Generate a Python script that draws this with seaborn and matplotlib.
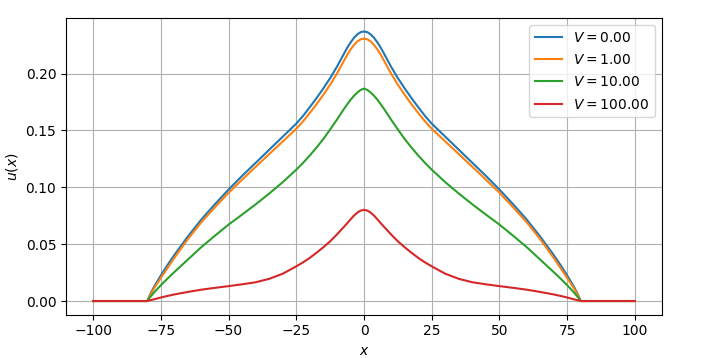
import matplotlib
matplotlib.use("Agg")
import matplotlib.pyplot as plt
import seaborn as sns

# x positions
x_vals = [-100, -80, -78.75, -77.5, -75, -72.5, -70, -65, -60, -55, -50, -45, -40, -35, -30,
          -25, -22.5, -20, -17.5, -15, -12.5, -10, -7.5, -6.25, -5, -3.75, -2.5, -1.25, 0,
          1.25, 2.5, 3.75, 5, 6.25, 7.5, 10, 12.5, 15, 17.5, 20, 22.5, 25,
          30, 35, 40, 45, 50, 55, 60, 65, 70, 72.5, 75, 77.5, 78.75, 80, 100]

u_v0 = [0, 0, 0.0068, 0.0125, 0.0225, 0.0318, 0.0405, 0.0568, 0.0718, 0.0852, 0.0980, 0.1100, 0.1215, 0.1330, 0.1445,
        0.1560, 0.1628, 0.1705, 0.1785, 0.1870, 0.1960, 0.2060, 0.2170, 0.2225, 0.2272, 0.2313, 0.2344, 0.2364, 0.2370,
        0.2364, 0.2344, 0.2313, 0.2272, 0.2225, 0.2170, 0.2060, 0.1960, 0.1870, 0.1785, 0.1705, 0.1628, 0.1560,
        0.1445, 0.1330, 0.1215, 0.1100, 0.0980, 0.0852, 0.0718, 0.0568, 0.0405, 0.0318, 0.0225, 0.0125, 0.0068, 0, 0]

u_v1 = [0, 0, 0.0060, 0.0112, 0.0203, 0.0292, 0.0380, 0.0545, 0.0694, 0.0825, 0.0952, 0.1067, 0.1180, 0.1292, 0.1403,
        0.1515, 0.1580, 0.1654, 0.1731, 0.1814, 0.1902, 0.2000, 0.2108, 0.2162, 0.2210, 0.2251, 0.2282, 0.2301, 0.2308,
        0.2301, 0.2282, 0.2251, 0.2210, 0.2162, 0.2108, 0.2000, 0.1902, 0.1814, 0.1731, 0.1654, 0.1580, 0.1515,
        0.1403, 0.1292, 0.1180, 0.1067, 0.0952, 0.0825, 0.0694, 0.0545, 0.0380, 0.0292, 0.0203, 0.0112, 0.0060, 0, 0]

u_v10 = [0, 0, 0.0040, 0.0075, 0.0139, 0.0198, 0.0255, 0.0365, 0.0475, 0.0575, 0.0672, 0.0760, 0.0850, 0.0945, 0.1045,
         0.1155, 0.1215, 0.1280, 0.1350, 0.1425, 0.1508, 0.1595, 0.1685, 0.1728, 0.1768, 0.1803, 0.1833, 0.1856, 0.1868,
         0.1856, 0.1833, 0.1803, 0.1768, 0.1728, 0.1685, 0.1595, 0.1508, 0.1425, 0.1350, 0.1280, 0.1215, 0.1155,
         0.1045, 0.0945, 0.0850, 0.0760, 0.0672, 0.0575, 0.0475, 0.0365, 0.0255, 0.0198, 0.0139, 0.0075, 0.0040, 0, 0]

u_v100 = [0, 0, 0.0008, 0.0015, 0.0031, 0.0045, 0.0058, 0.0080, 0.0100, 0.0116, 0.0131, 0.0147, 0.0165, 0.0195, 0.0240,
          0.0305, 0.0340, 0.0380, 0.0425, 0.0473, 0.0525, 0.0585, 0.0650, 0.0683, 0.0717, 0.0750, 0.0777, 0.0795, 0.0802,
          0.0795, 0.0777, 0.0750, 0.0717, 0.0683, 0.0650, 0.0585, 0.0525, 0.0473, 0.0425, 0.0380, 0.0340, 0.0305,
          0.0240, 0.0195, 0.0165, 0.0147, 0.0131, 0.0116, 0.0100, 0.0080, 0.0058, 0.0045, 0.0031, 0.0015, 0.0008, 0, 0]

labels = [r"$V = 0.00$", r"$V = 1.00$", r"$V = 10.00$", r"$V = 100.00$"]
series = [u_v0, u_v1, u_v10, u_v100]
colors = ["#1f77b4", "#ff7f0e", "#2ca02c", "#d62728"]

fig = plt.figure(figsize=(7.27, 3.58), dpi=100)
ax = fig.add_axes([0.0908, 0.1215, 0.8198, 0.8282])

for ys, lab, col in zip(series, labels, colors):
    sns.lineplot(x=x_vals, y=ys, ax=ax, label=lab, color=col, linewidth=1.5, sort=False)

ax.grid(True, color="#b0b0b0", linewidth=0.8)
ax.set_axisbelow(True)
ax.set_xlabel(r"$x$")
ax.set_ylabel(r"$u(x)$")
ax.set_xticks([-100, -75, -50, -25, 0, 25, 50, 75, 100])
ax.set_yticks([0.0, 0.05, 0.10, 0.15, 0.20])
ax.set_yticklabels(["0.00", "0.05", "0.10", "0.15", "0.20"])
ax.legend(loc="upper right", labelspacing=0.6)

fig.savefig("out.png", dpi=100)
